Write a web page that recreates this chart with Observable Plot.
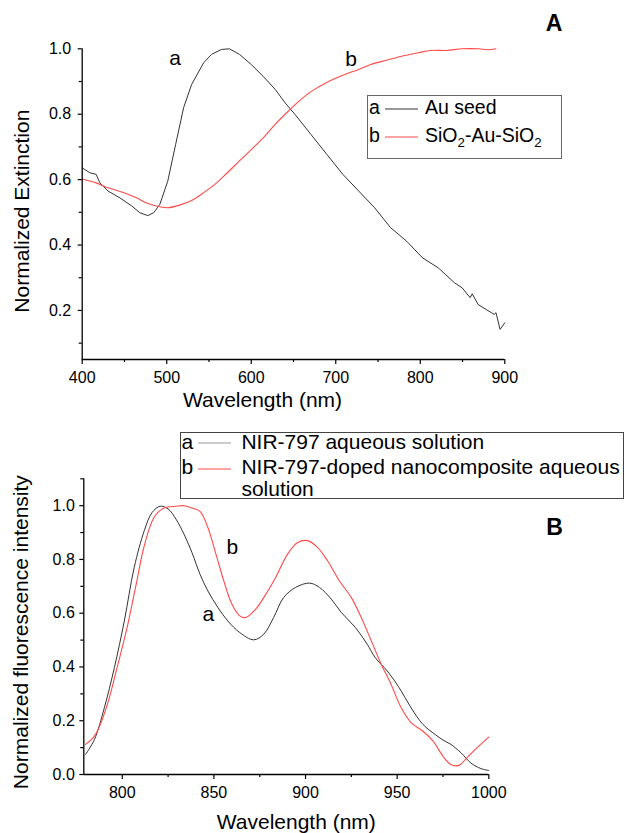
<!DOCTYPE html>
<html><head><meta charset="utf-8">
<script src="https://cdn.jsdelivr.net/npm/d3@7"></script>
<script src="https://cdn.jsdelivr.net/npm/@observablehq/plot@0.6"></script>
<style>
body{margin:0;background:#fff;}
#fig{position:relative;width:625px;height:833px;overflow:hidden;font-family:"Liberation Sans",Arial,Helvetica,sans-serif;color:#000;background:#fff;}
#fig > svg{position:absolute;left:0;}
.t{position:absolute;white-space:nowrap;line-height:0.9;transform:translateY(-50%);}
.ln{position:absolute;width:34px;height:4px;overflow:visible;}
.box{position:absolute;box-sizing:border-box;}
sub{font-size:0.68em;vertical-align:-0.35em;line-height:0;}
</style></head><body><div id="fig"></div>
<script>
// ---------- Panel A : extinction spectra ----------
const extWavelengthSeed = [400,409,416.5,421,430.6,444.7,458.9,468,477.7,484.7,491.8,501.2,510.6,520,529.5,543.6,553,564.8,574.2,586,600,614,628.3,640,651.9,670.7,689.5,708.4,727.2,746,764.9,783.7,802.6,821.4,840.3,849.6,859,861.4,868.5,877.9,887.3,889.6,894.4,900];
const extAuSeed = [0.636,0.621,0.616,0.59,0.565,0.544,0.519,0.499,0.49,0.499,0.524,0.595,0.708,0.82,0.891,0.957,0.983,0.998,1.0,0.983,0.952,0.916,0.876,0.835,0.799,0.738,0.677,0.616,0.565,0.514,0.453,0.412,0.361,0.330,0.285,0.269,0.239,0.251,0.218,0.203,0.188,0.193,0.142,0.162];
const extWavelengthShell = [400,416.5,430.6,449.4,463.6,477.7,491.8,501.2,515.3,529.5,543.6,557.7,571.8,586,600,614.2,628.3,642.5,656.6,670.7,684.9,699,713,727.2,741.4,760.2,779,797.9,812,830.8,849.6,868.5,880.2,889.6];
const extSiO2AuSiO2 = [0.602,0.590,0.575,0.560,0.545,0.527,0.517,0.514,0.522,0.536,0.560,0.587,0.621,0.657,0.692,0.728,0.769,0.806,0.840,0.869,0.891,0.909,0.924,0.937,0.952,0.965,0.978,0.988,0.995,0.995,1.0,1.0,0.997,1.0];
const ticksAxMajor = [400,500,600,700,800,900];
const ticksAxMinor = [450,550,650,750,850];
const ticksAyMajor = [0.2,0.4,0.6,0.8,1.0];
const ticksAyMinor = [0.1,0.3,0.5,0.7,0.9];
const curveLabelsA = [{x:510,y:0.972,text:"a"},{x:718,y:0.967,text:"b"}];

// ---------- Panel B : fluorescence spectra ----------
const flWavelengthDye = [780,784.8,790.2,795.7,801.1,806.5,812,816.3,820.7,825,829.3,833.7,838,842.4,846.7,852.2,857.6,864.1,871.7,877.2,882.6,888,894.6,902.2,907.6,914.1,919.6,927.2,933.7,938,944.6,951.1,957.6,964.1,970.7,975,979.3,984.8,990.2,995.7,1000];
const flDyeSolution = [0.075,0.130,0.248,0.398,0.571,0.770,0.907,0.975,0.998,0.988,0.950,0.894,0.826,0.745,0.683,0.621,0.571,0.528,0.501,0.522,0.584,0.658,0.696,0.712,0.696,0.652,0.602,0.547,0.484,0.435,0.385,0.323,0.248,0.186,0.149,0.128,0.112,0.081,0.043,0.022,0.015];
const flWavelengthComposite = [780,784.8,788,792.4,796.7,802.2,807.6,812,817.4,822.8,829.3,833.7,838,842.4,846.7,851.1,855.4,859.8,864.1,867.4,872.8,877.2,883.7,890.2,895.7,901.1,906.5,912,918.5,925,930.4,935.9,941.3,946.7,952.2,957.6,964.1,969.6,975,979.3,983.7,988,993.5,1000];
const flCompositeSolution = [0.112,0.143,0.186,0.273,0.385,0.534,0.708,0.851,0.957,0.991,0.998,1.0,0.991,0.979,0.919,0.820,0.720,0.634,0.590,0.584,0.615,0.658,0.733,0.820,0.863,0.870,0.845,0.795,0.720,0.658,0.584,0.497,0.410,0.335,0.248,0.193,0.161,0.124,0.068,0.037,0.034,0.062,0.099,0.139];
const ticksBxMajor = [800,850,900,950,1000];
const ticksBxMinor = [825,875,925,975];
const ticksByMajor = [0.0,0.2,0.4,0.6,0.8,1.0];
const ticksByMinor = [0.1,0.3,0.5,0.7,0.9,1.1];
const curveLabelsB = [{x:860,y:0.845,text:"b"},{x:847,y:0.596,text:"a"}];

const FONT = '"Liberation Sans", Arial, Helvetica, sans-serif';
const BLACK = "#333";
const RED = "#ff4a4a";
const zip = (xs, ys) => xs.map((x, i) => ({x, y: ys[i]}));
const f1 = d3.format(".1f");
const fInt = d3.format("d");

function panel(o) {
  return Plot.plot({
    width: 625, height: o.height,
    marginTop: o.mt, marginRight: o.mr, marginBottom: o.mb, marginLeft: o.ml,
    x: {domain: o.xDomain},
    y: {domain: o.yDomain},
    style: {fontFamily: FONT, fontSize: "16px", color: "#000", background: "transparent", overflow: "visible"},
    marks: [
      Plot.line(o.s1, {x: "x", y: "y", stroke: BLACK, strokeWidth: 1, curve: o.curve1}),
      Plot.line(o.s2, {x: "x", y: "y", stroke: RED, strokeWidth: 1.1, curve: "catmull-rom"}),
      Plot.ruleX([o.xDomain[0]], {stroke: "#000", strokeWidth: 1.3}),
      Plot.ruleY([o.yDomain[0]], {stroke: "#000", strokeWidth: 1.3}),
      Plot.axisX(o.xMajor, {tickSize: 5, tickPadding: 7, tickFormat: fInt, fontSize: 16, label: null, strokeWidth: 1.2}),
      Plot.axisX(o.xMinor, {tickSize: 3, tickFormat: () => "", label: null, strokeWidth: 1.2}),
      Plot.axisY(o.yMajor, {tickSize: 4, tickPadding: o.ypad, tickFormat: f1, fontSize: 16, label: null, strokeWidth: 1.2}),
      Plot.axisY(o.yMinor, {tickSize: 3, tickFormat: () => "", label: null, strokeWidth: 1.2}),
      Plot.text(o.labels, {x: "x", y: "y", text: "text", fontSize: 21, fill: "#000"}),
      Plot.text([o.xTitle], {frameAnchor: "bottom", textAnchor: "middle", lineAnchor: "middle", dx: o.xdx, dy: o.xdy, fontSize: 21, fill: "#000"}),
      Plot.text([o.yTitle], {frameAnchor: "left", textAnchor: "middle", lineAnchor: "middle", rotate: -90, dx: o.ydx, dy: o.ydy, fontSize: 21, fill: "#000"})
    ]
  });
}

const fig = document.getElementById("fig");

const A = panel({
  height: 420, mt: 48.3, mr: 120.7, mb: 61, ml: 81.7,
  xDomain: [400, 900], yDomain: [0.05, 1.0],
  xMajor: ticksAxMajor, xMinor: ticksAxMinor, yMajor: ticksAyMajor, yMinor: ticksAyMinor, ypad: 7,
  s1: zip(extWavelengthSeed, extAuSeed), s2: zip(extWavelengthShell, extSiO2AuSiO2), curve1: "linear",
  labels: curveLabelsA,
  xTitle: "Wavelength (nm)", xdx: -31, xdy: 41,
  yTitle: "Normalized Extinction", ydx: -60, ydy: 7
});
A.style.top = "0px";
fig.appendChild(A);

const B = panel({
  height: 413, mt: 58.3, mr: 136.7, mb: 59, ml: 83.3,
  xDomain: [779, 1000], yDomain: [0, 1.1],
  xMajor: ticksBxMajor, xMinor: ticksBxMinor, yMajor: ticksByMajor, yMinor: ticksByMinor, ypad: 5,
  s1: zip(flWavelengthDye, flDyeSolution), s2: zip(flWavelengthComposite, flCompositeSolution), curve1: "catmull-rom",
  labels: curveLabelsB,
  xTitle: "Wavelength (nm)", xdx: 10, xdy: 47.7,
  yTitle: "Normalized fluorescence intensity", ydx: -63, ydy: 5.5
});
B.style.top = "420px";
fig.appendChild(B);

// ---------- legends and panel letters (HTML overlay) ----------
function add(html, css, cls = "t") {
  const d = document.createElement("div");
  d.className = cls;
  d.innerHTML = html;
  Object.assign(d.style, css);
  fig.appendChild(d);
}
function swatch(left, top, color) {
  add(`<svg width="34" height="4" style="display:block;overflow:visible"><line x1="0" x2="33" y1="2" y2="2" stroke="${color}" stroke-width="1.2"/></svg>`,
      {left: left + "px", top: (top - 2) + "px"}, "ln");
}
// Legend A
add("", {left: "366.7px", top: "95px", width: "195px", height: "64px", border: "1.5px solid #666"}, "box");
add("a", {left: "369px", top: "108px", fontSize: "19.5px"});
swatch(385, 108.5, BLACK);
add("Au seed", {left: "425px", top: "108px", fontSize: "19.5px"});
add("b", {left: "369px", top: "136px", fontSize: "19.5px"});
swatch(385, 137, RED);
add("SiO<sub>2</sub>-Au-SiO<sub>2</sub>", {left: "425px", top: "136px", fontSize: "19.5px"});
// Legend B
add("", {left: "179.6px", top: "431.7px", width: "444.5px", height: "67.3px", border: "1.6px solid #444"}, "box");
add("a", {left: "181.5px", top: "442px", fontSize: "21px"});
swatch(197.5, 443, "#999");
add("NIR-797 aqueous solution", {left: "241.4px", top: "442px", fontSize: "21px"});
add("b", {left: "181.5px", top: "467px", fontSize: "21px"});
swatch(197.5, 468.5, RED);
add("NIR-797-doped nanocomposite aqueous", {left: "241.4px", top: "467px", fontSize: "21px"});
add("solution", {left: "241.4px", top: "489px", fontSize: "21px"});
// Panel letters
add("A", {left: "554px", top: "23px", fontSize: "23px", fontWeight: "bold", transform: "translate(-50%,-50%)"});
add("B", {left: "554.6px", top: "527px", fontSize: "23px", fontWeight: "bold", transform: "translate(-50%,-50%)"});
</script></body></html>
